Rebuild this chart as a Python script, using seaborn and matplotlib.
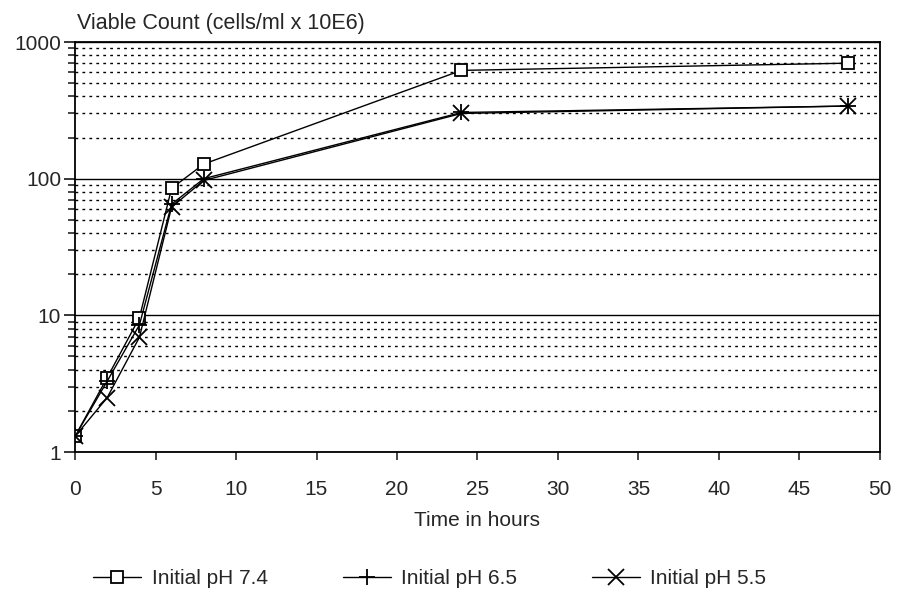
import matplotlib
matplotlib.use("Agg")
import matplotlib.pyplot as plt
import seaborn as sns
import pandas as pd
import numpy as np
from matplotlib.ticker import FixedLocator, NullFormatter

sns.set_style("white")
plt.rcParams['font.family'] = ['Liberation Sans', 'DejaVu Sans']

hours = [0, 2, 4, 6, 8, 24, 48]
ph74 = [1.3, 3.5, 9.6, 85, 128, 620, 700]
ph65 = [1.3, 3.3, 8.5, 65, 100, 305, 340]
ph55 = [1.3, 2.5, 6.9, 62, 97, 300, 340]
series_names = ["Initial pH 7.4", "Initial pH 6.5", "Initial pH 5.5"]
series_values = [ph74, ph65, ph55]
markers = ["s", "+", "x"]
xticks = [0, 5, 10, 15, 20, 25, 30, 35, 40, 45, 50]
yticks = [1, 10, 100, 1000]
ytick_labels = ["1", "10", "100", "1000"]

FS = 15

fig = plt.figure(figsize=(8.98, 5.98), dpi=100)
ax = fig.add_axes([75/898, 1-452/598, (880-75)/898, (452-42)/598])
ax.set_yscale("log")
ax.set_xlim(0, 50)
ax.set_ylim(1, 1000)

minor = [m * 10**e for e in range(0, 3) for m in range(2, 10)]
ax.yaxis.set_minor_locator(FixedLocator(minor))
ax.yaxis.set_minor_formatter(NullFormatter())
ax.set_yticks(yticks)
ax.set_yticklabels(ytick_labels)
ax.set_xticks(xticks)
ax.grid(True, which="major", axis="y", color="black", linestyle="-", linewidth=1.0)
ax.grid(True, which="minor", axis="y", color="black", linestyle=(0, (2, 3)), linewidth=1.0)
ax.grid(False, axis="x")

for name, vals, mk in zip(series_names, series_values, markers):
    df = pd.DataFrame({"hours": hours, "count": vals})
    sns.lineplot(data=df, x="hours", y="count", ax=ax, color="black", linewidth=1.0,
                 marker=mk, markersize=9 if mk == "s" else 11,
                 markerfacecolor="white" if mk == "s" else "black",
                 markeredgecolor="black", markeredgewidth=1.3, label=name, zorder=3)

for s in ax.spines.values():
    s.set_color("black")
    s.set_linewidth(1.3)
    s.set_visible(True)

ax.tick_params(axis="y", which="major", direction="out", length=8, width=1.3, labelsize=FS, pad=2, left=True)
ax.tick_params(axis="y", which="minor", direction="out", length=5, width=1.2, left=True)
ax.tick_params(axis="x", which="major", direction="out", length=6, width=1.2, labelsize=FS, pad=14, bottom=True)

ax.set_xlabel("Time in hours", fontsize=FS, labelpad=9)
ax.set_ylabel("")
fig.text(77/898, 1-23/598, "Viable Count (cells/ml x 10E6)", fontsize=15.5, ha="left", va="center")

leg = ax.legend(loc="center", bbox_to_anchor=((430-75)/805, (452-579)/410), ncol=3, frameon=False,
                fontsize=FS, handlelength=2.3, columnspacing=3.6, handletextpad=0.5)

fig.savefig("out.png", dpi=100, facecolor="white")
